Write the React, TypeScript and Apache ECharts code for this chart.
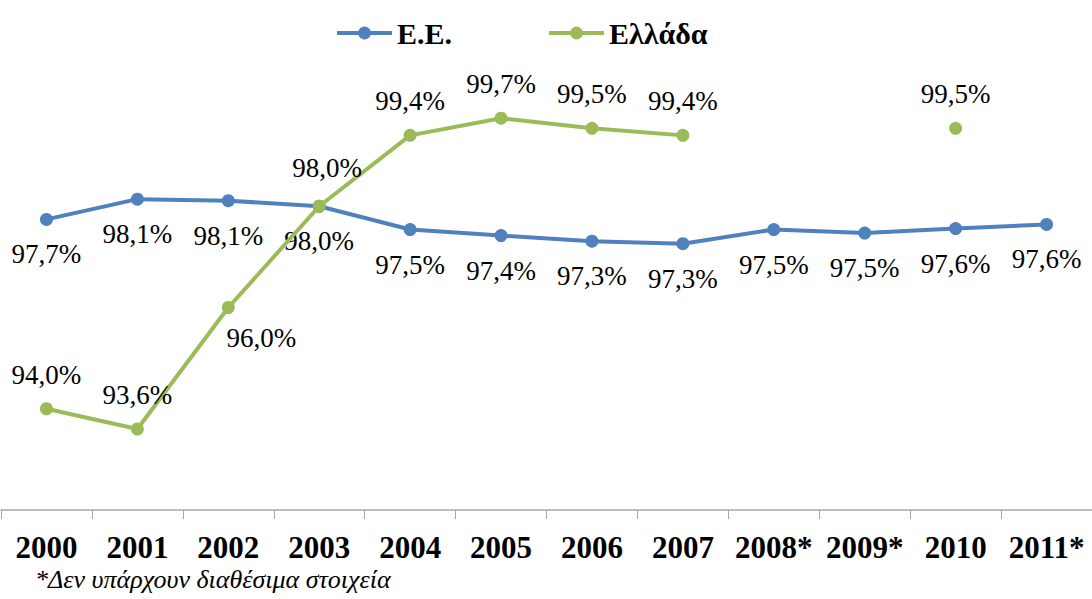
import React, { useEffect, useRef } from "react";
import * as echarts from "echarts";

const years = ["2000", "2001", "2002", "2003", "2004", "2005", "2006", "2007", "2008*", "2009*", "2010", "2011*"];
const euValues = [97.74, 98.14, 98.11, 98.0, 97.54, 97.42, 97.31, 97.26, 97.54, 97.47, 97.56, 97.64];
const greeceValues: (number | null)[] = [94.0, 93.6, 96.0, 98.0, 99.4, 99.74, 99.54, 99.4, null, null, 99.54, null];
const seriesNames = ["Ε.Ε.", "Ελλάδα"];
const footnote = "*Δεν υπάρχουν διαθέσιμα στοιχεία";

const FONT = '"Liberation Serif", "Times New Roman", serif';

const fmt = (v: number) => v.toFixed(1).replace(".", ",") + "%";

export default function App() {
  const ref = useRef<HTMLDivElement>(null);
  useEffect(() => {
    if (!ref.current) return;
    const chart = echarts.init(ref.current, null, { renderer: "svg" });

    const greenOffsets: Record<number, [number, number]> = { 2: [33, 30], 3: [8, -38] };

    const labelBase = {
      show: true,
      position: "inside",
      color: "#000",
      fontFamily: FONT,
      fontSize: 27,
      formatter: (p: any) => fmt(p.value),
    };

    const euData = euValues.map((v) => ({ value: v }));
    const grData = greeceValues.map((v, i) =>
      v === null ? null : { value: v, label: { offset: greenOffsets[i] || [0, -34] } }
    );

    chart.setOption({
      animation: false,
      textStyle: { fontFamily: FONT },
      legend: {
        left: 330,
        top: 13,
        itemWidth: 55,
        itemHeight: 16,
        itemGap: 95,
        lineStyle: { width: 4 },
        textStyle: { fontFamily: FONT, fontSize: 30, fontWeight: "bold", color: "#000" },
        data: seriesNames,
      },
      grid: { left: 1, top: 105, width: 1096, bottom: 89, containLabel: false },
      xAxis: {
        type: "category",
        data: years,
        boundaryGap: true,
        axisLine: { lineStyle: { color: "#A6A6A6", width: 1.5 } },
        axisTick: { show: true, length: 9, lineStyle: { color: "#A6A6A6" } },
        axisLabel: {
          color: "#000",
          fontFamily: FONT,
          fontSize: 31,
          fontWeight: "bold",
          margin: 22,
          interval: 0,
        },
      },
      yAxis: {
        type: "value",
        min: 92,
        max: 100,
        show: false,
        splitLine: { show: false },
      },
      series: [
        {
          name: seriesNames[0],
          type: "line",
          data: euData,
          color: "#4F81BD",
          symbol: "circle",
          symbolSize: 13,
          lineStyle: { width: 4, color: "#4F81BD" },
          itemStyle: { color: "#4F81BD" },
          label: { ...labelBase, offset: [0, 35] },
          z: 2,
        },
        {
          name: seriesNames[1],
          type: "line",
          data: grData,
          connectNulls: false,
          color: "#9BBB59",
          symbol: "circle",
          symbolSize: 13,
          lineStyle: { width: 4, color: "#9BBB59" },
          itemStyle: { color: "#9BBB59" },
          label: { ...labelBase, offset: [0, -34] },
          z: 3,
        },
      ],
      graphic: [
        {
          type: "text",
          left: 35,
          top: 566,
          style: {
            text: footnote,
            fontFamily: FONT,
            fontSize: 26,
            fontStyle: "italic",
            fill: "#000",
          },
        },
      ],
    });
    return () => chart.dispose();
  }, []);
  return (
    <div
      ref={ref}
      style={{ position: "fixed", left: 0, top: 0, width: 1092, height: 599, background: "#fff" }}
    />
  );
}
